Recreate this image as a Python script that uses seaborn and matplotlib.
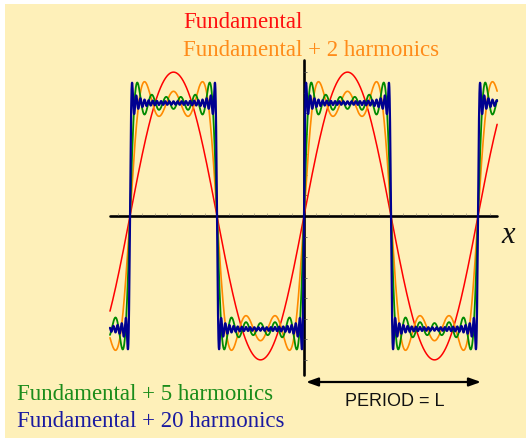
# fourier_square.py
# Square wave built up from its Fourier partial sums

import numpy as np
import pandas as pd
import matplotlib
matplotlib.use("Agg")
import matplotlib.pyplot as plt
from matplotlib.patches import Rectangle
import seaborn as sns

# --- DATA ---
labels = ["Fundamental", "Fundamental + 2 harmonics",
          "Fundamental + 5 harmonics", "Fundamental + 20 harmonics"]
harmonics = [0, 2, 5, 20]          # extra odd harmonics on top of the fundamental
line_colors = ["#ff0000", "#ff8a00", "#008a00", "#000090"]
text_colors = ["#ff1010", "#ff8c1a", "#1a8c1a", "#1a1aa0"]
period = 1.0                       # L
t_span = [-1.115, 1.11]            # in periods
period_label = "PERIOD = L"

W, H = 526, 439
X0, Y0 = 304, 217                  # origin in pixels
SX, SY = 174, 113                  # pixels per period / per unit amplitude


def px(x):
    return (x - X0) / SX


def py(y):
    return (Y0 - y) / SY


def partial_sum(t, n):
    out = np.zeros_like(t)
    for k in range(n + 1):
        m = 2 * k + 1
        out += np.sin(2 * np.pi * m * t / period) / m
    return 4 / np.pi * out


t = np.linspace(t_span[0], t_span[1], 5000)
frames = []
for lab, n in zip(labels, harmonics):
    frames.append(pd.DataFrame({"t": t, "y": partial_sum(t, n), "series": lab}))
df = pd.concat(frames, ignore_index=True)

# --- PLOT ---
sns.set_style("white")
plt.rcParams["font.family"] = ["Liberation Serif", "DejaVu Serif"]

fig = plt.figure(figsize=(W / 100, H / 100), dpi=100, facecolor="white")
fig.patches.append(Rectangle((5 / W, 0), 1, 1 - 5 / H, transform=fig.transFigure,
                             facecolor="#fef0b9", edgecolor="none", zorder=-10))
ax = fig.add_axes([0, 0, 1, 1])
ax.set_zorder(5)
ax.patch.set_alpha(0)

# axes lines and small ticks
ax.plot([px(110), px(497)], [0, 0], color="black", lw=1.9, zorder=1)
ax.plot([0, 0], [py(376), py(61)], color="black", lw=1.9, zorder=1)
xt = np.arange(-15, 16) / 14 * period
xt = xt[(xt > px(112)) & (xt < px(495)) & (xt != 0)]
ax.vlines(xt, 1.5 / SY, 3.5 / SY, color="#a09880", lw=0.5, zorder=1)
yt = np.arange(-7, 8) * 4 / (7 * np.pi)
yt = yt[yt != 0]
ax.hlines(yt, 0, 3 / SX, color="#555555", lw=0.6, zorder=1)

sns.lineplot(data=df, x="t", y="y", hue="series", hue_order=labels,
             palette=dict(zip(labels, line_colors)), estimator=None,
             sort=False, legend=False, ax=ax, zorder=2)
for line, lw in zip(ax.lines[-4:], [1.1, 1.2, 1.3, 1.6]):
    line.set_linewidth(lw)
ax.set_xlim(px(0), px(W))
ax.set_ylim(py(H), py(0))
ax.set_axis_off()

# period arrow
ax.annotate("", xy=(px(306), py(383)), xytext=(px(481), py(383)),
            arrowprops=dict(arrowstyle="<|-|>,head_length=0.7,head_width=0.25",
                            color="black", lw=1.6, shrinkA=0, shrinkB=0))
fig.text(395 / W, 1 - 406 / H, period_label, ha="center", va="baseline",
         fontsize=13, family=["Liberation Sans", "DejaVu Sans"], color="#111111")

fig.text(508 / W, 1 - 243 / H, "x", ha="center", va="baseline",
         fontsize=22, style="italic", color="#111111")

# series captions
caption_pos = [(183, 28), (183, 56), (17, 400), (17, 427)]
for lab, col, (x, y) in zip(labels, text_colors, caption_pos):
    fig.text(x / W, 1 - y / H, lab, ha="left", va="baseline", fontsize=16.5, color=col)

fig.savefig("out.png", dpi=100, facecolor="white")
